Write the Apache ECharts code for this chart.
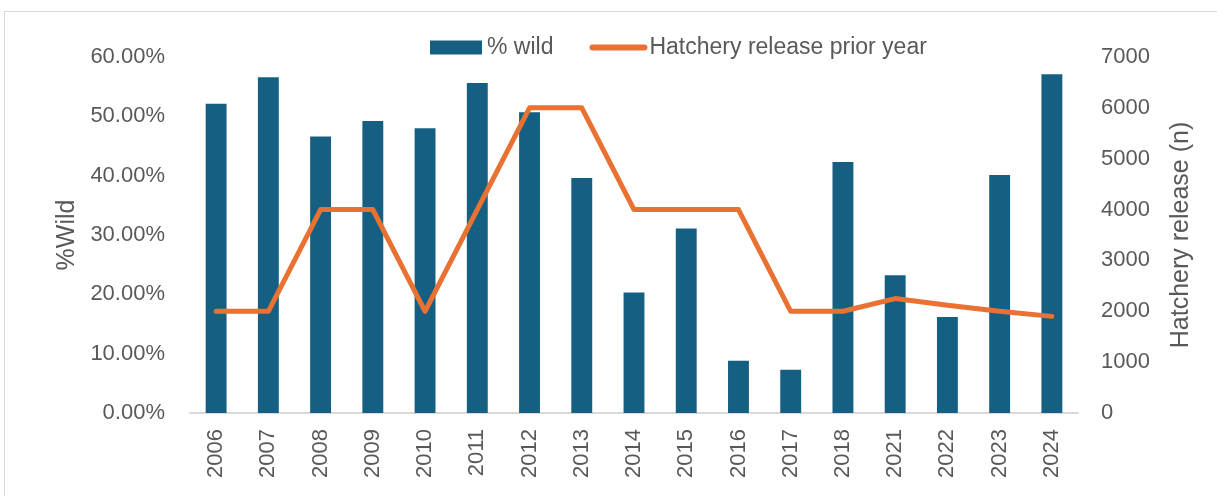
<!DOCTYPE html>
<html>
<head>
<meta charset="utf-8">
<script src="https://cdn.jsdelivr.net/npm/echarts@6/dist/echarts.min.js"></script>
<style>
  html, body { margin: 0; padding: 0; background: #fff; }
  #frame {
    position: absolute; left: 4px; top: 11px; width: 1240px; height: 520px;
    border: 1px solid #d9d9d9; box-sizing: border-box;
  }
  #chart { position: absolute; left: 0; top: 0; width: 1217px; height: 496px; }
</style>
</head>
<body>
<div id="frame"></div>
<div id="chart"></div>
<script>
// years on the x axis
const years = ['2006', '2007', '2008', '2009', '2010', '2011', '2012', '2013', '2014',
  '2015', '2016', '2017', '2018', '2021', '2022', '2023', '2024']

// % wild (fraction)
const wildPct = [0.521, 0.566, 0.466, 0.492, 0.480, 0.556, 0.507, 0.396, 0.203,
  0.311, 0.088, 0.073, 0.423, 0.232, 0.162, 0.401, 0.571]

// hatchery release the year before
const hatcheryRelease = [2000, 2000, 4000, 4000, 2000, 4000, 6000, 6000, 4000,
  4000, 4000, 2000, 2000, 2250, 2120, 2000, 1900]

const textColor = '#595959'
const fontFamily = 'Liberation Sans, Arial, sans-serif'

const chart = echarts.init(document.getElementById('chart'))

const option = {
  animation: false,
  textStyle: { fontFamily: fontFamily },
  legend: {
    top: 31,
    left: 425,
    itemGap: 36,
    itemWidth: 52,
    itemHeight: 14,
    textStyle: { color: textColor, fontSize: 23, fontFamily: fontFamily },
    data: [
      { name: '% wild', icon: 'rect' },
      {
        name: 'Hatchery release prior year',
        itemStyle: { opacity: 0 },
        lineStyle: { width: 6, cap: 'round', color: '#E97132' }
      }
    ]
  },
  grid: { left: 190, right: 139, top: 57, bottom: 83 },
  xAxis: {
    type: 'category',
    data: years,
    axisLine: { lineStyle: { color: '#d9d9d9', width: 2 } },
    axisTick: { show: false },
    axisLabel: { rotate: 90, color: textColor, fontSize: 22, margin: 16 }
  },
  yAxis: [
    {
      type: 'value',
      min: 0,
      max: 0.6,
      interval: 0.1,
      name: '%Wild',
      nameLocation: 'middle',
      nameGap: 110,
      nameTextStyle: { color: textColor, fontSize: 25 },
      splitLine: { show: false },
      axisLabel: {
        color: textColor,
        fontSize: 22,
        margin: 25,
        formatter: (v) => (v * 100).toFixed(2) + '%'
      }
    },
    {
      type: 'value',
      min: 0,
      max: 7000,
      interval: 1000,
      name: 'Hatchery release (n)',
      nameLocation: 'middle',
      nameGap: 91,
      nameRotate: 90,
      nameTextStyle: { color: textColor, fontSize: 25 },
      splitLine: { show: false },
      axisLabel: { color: textColor, fontSize: 22, margin: 23, formatter: (v) => String(v) }
    }
  ],
  series: [
    {
      name: '% wild',
      type: 'bar',
      yAxisIndex: 0,
      data: wildPct,
      barWidth: '40%',
      itemStyle: { color: '#156082' }
    },
    {
      name: 'Hatchery release prior year',
      type: 'line',
      yAxisIndex: 1,
      data: hatcheryRelease,
      symbol: 'none',
      lineStyle: { color: '#E97132', width: 5, cap: 'round', join: 'round' },
      itemStyle: { color: '#E97132' }
    }
  ]
}

chart.setOption(option)
</script>
</body>
</html>
